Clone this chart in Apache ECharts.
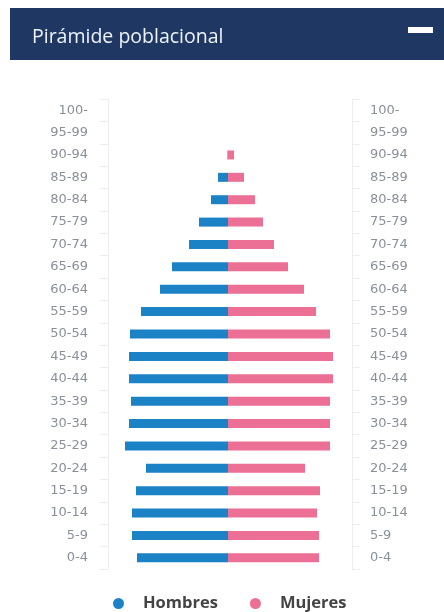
<!DOCTYPE html>
<html>
<head>
<meta charset="utf-8">
<script src="https://cdn.jsdelivr.net/npm/echarts@6/dist/echarts.min.js"></script>
<style>
  html, body { margin: 0; padding: 0; background: #fff; }
  #main { width: 444px; height: 612px; }
</style>
</head>
<body>
<div id="main"></div>
<script>
// grupos de edad, de arriba hacia abajo
var ageGroups = ['100-', '95-99', '90-94', '85-89', '80-84', '75-79', '70-74', '65-69', '60-64', '55-59',
  '50-54', '45-49', '40-44', '35-39', '30-34', '25-29', '20-24', '15-19', '10-14', '5-9', '0-4'];
// valores (unidades relativas)
var hombres = [0, 0, 0.5, 10, 17, 29, 39, 56, 68, 87, 98, 99, 99, 97, 99, 103, 82, 92, 96, 96, 91];
var mujeres = [0, 0, 6, 16, 27, 35, 46, 60, 76, 88, 102, 105, 105, 102, 102, 102, 77, 92, 89, 91, 91];

var labelStyle = {
  color: '#8a909a',
  fontSize: 13,
  fontFamily: 'DejaVu Sans'
};
var axisLine = { show: true, onZero: false, lineStyle: { color: '#eceef0' } };
var axisTick = { show: true, length: 8, lineStyle: { color: '#eceef0' } };

var chart = echarts.init(document.getElementById('main'));
chart.setOption({
  animation: false,
  title: {
    text: 'Pirámide poblacional',
    left: 27,
    top: 22,
    textStyle: { color: '#eef3fa', fontSize: 19.5, fontWeight: 'normal', fontFamily: 'Open Sans' }
  },
  graphic: [
    { type: 'rect', z: -1, shape: { x: 10, y: 8, width: 434, height: 52 }, style: { fill: '#1f3863' } },
    { type: 'rect', shape: { x: 408, y: 27, width: 25, height: 6 }, style: { fill: '#ffffff' } }
  ],
  legend: {
    top: 590,
    left: 108,
    icon: 'circle',
    itemWidth: 11,
    itemHeight: 11,
    itemGap: 32,
    textStyle: { color: '#444', fontSize: 16.5, fontWeight: 'bold', fontFamily: 'Open Sans', padding: [0, 0, 0, 14] },
    data: ['Hombres', 'Mujeres']
  },
  grid: { left: 108, right: 92, top: 99, bottom: 43 },
  xAxis: {
    type: 'value',
    min: -120,
    max: 124,
    show: false
  },
  yAxis: [
    {
      type: 'category',
      inverse: true,
      position: 'left',
      data: ageGroups,
      axisLine: axisLine,
      axisTick: axisTick,
      axisLabel: Object.assign({ margin: 20 }, labelStyle)
    },
    {
      type: 'category',
      inverse: true,
      position: 'right',
      data: ageGroups,
      axisLine: axisLine,
      axisTick: axisTick,
      axisLabel: Object.assign({ margin: 18 }, labelStyle)
    }
  ],
  series: [
    {
      name: 'Hombres',
      type: 'bar',
      stack: 'total',
      barWidth: 9,
      itemStyle: { color: '#1b82c6' },
      data: hombres.map(function (v) { return -v; })
    },
    {
      name: 'Mujeres',
      type: 'bar',
      stack: 'total',
      barWidth: 9,
      itemStyle: { color: '#ec6f95' },
      data: mujeres
    }
  ]
});
</script>
</body>
</html>
